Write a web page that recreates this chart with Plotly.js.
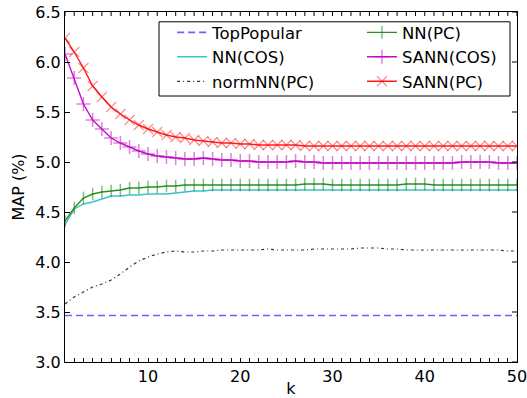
<!DOCTYPE html>
<html><head><meta charset="utf-8">
<script src="https://cdn.plot.ly/plotly-3.0.1.min.js"></script>
<style>body{margin:0;background:#fff}</style></head>
<body><div id="c" style="width:527px;height:398px"></div>
<script>
const k = [1,2,3,4,5,6,7,8,9,10,11,12,13,14,15,16,17,18,19,20,21,22,23,24,25,26,27,28,29,30,31,32,33,34,35,36,37,38,39,40,41,42,43,44,45,46,47,48,49,50];
const topPopular = [3.465,3.465,3.465,3.465,3.465,3.465,3.465,3.465,3.465,3.465,3.465,3.465,3.465,3.465,3.465,3.465,3.465,3.465,3.465,3.465,3.465,3.465,3.465,3.465,3.465,3.465,3.465,3.465,3.465,3.465,3.465,3.465,3.465,3.465,3.465,3.465,3.465,3.465,3.465,3.465,3.465,3.465,3.465,3.465,3.465,3.465,3.465,3.465,3.465,3.465];
const nnCos = [4.37,4.53,4.58,4.60,4.63,4.66,4.66,4.67,4.67,4.68,4.68,4.68,4.69,4.70,4.71,4.71,4.72,4.72,4.72,4.72,4.72,4.72,4.72,4.72,4.72,4.72,4.72,4.72,4.72,4.72,4.72,4.72,4.72,4.72,4.72,4.72,4.72,4.72,4.72,4.72,4.72,4.72,4.72,4.72,4.72,4.72,4.72,4.72,4.72,4.72];
const normNnPc = [3.58,3.65,3.70,3.75,3.78,3.82,3.88,3.95,4.01,4.05,4.08,4.10,4.11,4.10,4.10,4.11,4.11,4.12,4.12,4.12,4.12,4.12,4.13,4.12,4.12,4.12,4.12,4.13,4.13,4.13,4.13,4.13,4.14,4.14,4.14,4.13,4.13,4.12,4.12,4.12,4.12,4.12,4.12,4.12,4.12,4.12,4.12,4.12,4.11,4.11];
const nnPc = [4.41,4.54,4.64,4.68,4.70,4.71,4.72,4.74,4.74,4.75,4.75,4.76,4.76,4.77,4.77,4.77,4.77,4.77,4.77,4.77,4.77,4.77,4.77,4.77,4.77,4.77,4.78,4.78,4.78,4.77,4.77,4.77,4.77,4.77,4.77,4.77,4.77,4.78,4.78,4.78,4.77,4.77,4.77,4.77,4.77,4.77,4.77,4.77,4.77,4.77];
const sannCos = [6.08,5.84,5.58,5.42,5.33,5.24,5.19,5.15,5.11,5.08,5.06,5.05,5.04,5.03,5.03,5.04,5.03,5.02,5.02,5.01,5.01,5.00,5.00,5.00,5.00,5.01,5.00,5.00,4.99,4.99,4.99,4.99,4.99,4.99,4.99,4.99,4.99,4.99,4.99,4.99,4.99,4.99,4.99,5.00,5.00,5.00,5.00,4.99,4.99,4.99];
const sannPc = [6.24,6.10,5.94,5.76,5.65,5.55,5.48,5.42,5.37,5.33,5.30,5.27,5.25,5.24,5.22,5.21,5.20,5.19,5.19,5.18,5.18,5.17,5.17,5.17,5.17,5.17,5.16,5.16,5.16,5.16,5.16,5.16,5.16,5.16,5.16,5.16,5.16,5.16,5.16,5.16,5.16,5.16,5.16,5.16,5.16,5.16,5.16,5.16,5.16,5.16];
const xTicks = [10,20,30,40,50];
const yTicks = [3.0,3.5,4.0,4.5,5.0,5.5,6.0,6.5];
const yTickText = ['3.0','3.5','4.0','4.5','5.0','5.5','6.0','6.5'];

const F = '"DejaVu Sans", sans-serif';
const traces = [
  {x:k, y:topPopular, name:'TopPopular', mode:'lines', legend:'legend', legendrank:1,
   line:{color:'rgba(40,40,255,0.72)', width:1.6, dash:'7px,4px'}},
  {x:k, y:nnCos, name:'NN(COS)', mode:'lines', legend:'legend', legendrank:2,
   line:{color:'#3cc4c4', width:1.4}},
  {x:k, y:normNnPc, name:'normNN(PC)', mode:'lines', legend:'legend', legendrank:3,
   line:{color:'#333', width:1.2, dash:'3px,3px,1px,3px'}},
  {x:k, y:nnPc, name:'NN(PC)', mode:'lines+markers', legend:'legend2', legendrank:1,
   line:{color:'#2a8f2a', width:1.4},
   marker:{symbol:'line-ns-open', size:9, color:'rgba(0,128,0,0.5)', line:{color:'rgba(0,128,0,0.5)', width:1.5}}},
  {x:k, y:sannCos, name:'SANN(COS)', mode:'lines+markers', legend:'legend2', legendrank:2,
   line:{color:'#c010c0', width:1.4},
   marker:{symbol:'cross-thin-open', size:10, color:'rgba(191,0,191,0.5)', line:{color:'rgba(191,0,191,0.5)', width:1.5}}},
  {x:k, y:sannPc, name:'SANN(PC)', mode:'lines+markers', legend:'legend2', legendrank:3,
   line:{color:'#ff1a1a', width:1.4},
   marker:{symbol:'x-thin-open', size:10, color:'rgba(255,0,0,0.45)', line:{color:'rgba(255,0,0,0.45)', width:1.2}}}
];
const legCommon = {orientation:'v', yanchor:'top', xanchor:'left', bgcolor:'rgba(0,0,0,0)',
  borderwidth:0, font:{family:F, size:16.5, color:'#000'}, traceorder:'normal'};

const plotW = 527 - 65 - 10, plotH = 398 - 12 - 36;
// mirrored tick marks on top and right edges, placed through the axes' own scales
const topTicks = k.map(v => ({type:'line', xref:'x', yref:'paper', x0:v, x1:v,
  y0:1, y1:1 - 4/plotH, line:{color:'#000', width:1}, layer:'above'}));
const rightTicks = yTicks.map(v => ({type:'line', xref:'paper', yref:'y', x0:1, x1:1 - 5/plotW,
  y0:v, y1:v, line:{color:'#000', width:1}, layer:'above'}));
const legendBox = {type:'rect', xref:'paper', yref:'paper', x0:0.208, x1:0.9845, y0:0.76, y1:0.972,
  fillcolor:'#fff', line:{color:'#000', width:1}, layer:'above'};

const layout = {
  width:527, height:398,
  margin:{l:65, r:10, t:12, b:36},
  paper_bgcolor:'#fff', plot_bgcolor:'#fff',
  font:{family:F, size:16, color:'#000'},
  showlegend:true,
  legend:Object.assign({x:0.237, y:0.991}, legCommon),
  legend2:Object.assign({x:0.657, y:0.991}, legCommon),
  shapes:[].concat(topTicks, rightTicks, [legendBox]),
  xaxis:{range:[1,50.0001], tickmode:'array', tickvals:k,
    ticktext:k.map(v => xTicks.includes(v) ? String(v) : ''),
    ticks:'inside', ticklen:4, tickwidth:1, tickcolor:'#000', ticklabeloverflow:'allow', mirror:true,
    showline:true, linecolor:'#000', linewidth:1, showgrid:false, zeroline:false,
    tickfont:{family:F, size:16},
    title:{text:'k', font:{family:F, size:16}, standoff:2}},
  yaxis:{range:[3,6.5], tickmode:'array', tickvals:yTicks, ticktext:yTickText,
    ticks:'inside', ticklen:5, tickwidth:1, tickcolor:'#000', ticklabeloverflow:'allow', mirror:true,
    showline:true, linecolor:'#000', linewidth:1, showgrid:false, zeroline:false,
    tickfont:{family:F, size:16},
    title:{text:'MAP (%)', font:{family:F, size:16}, standoff:6}}
};
Plotly.newPlot('c', traces, layout, {displayModeBar:false, staticPlot:true});
</script></body></html>
